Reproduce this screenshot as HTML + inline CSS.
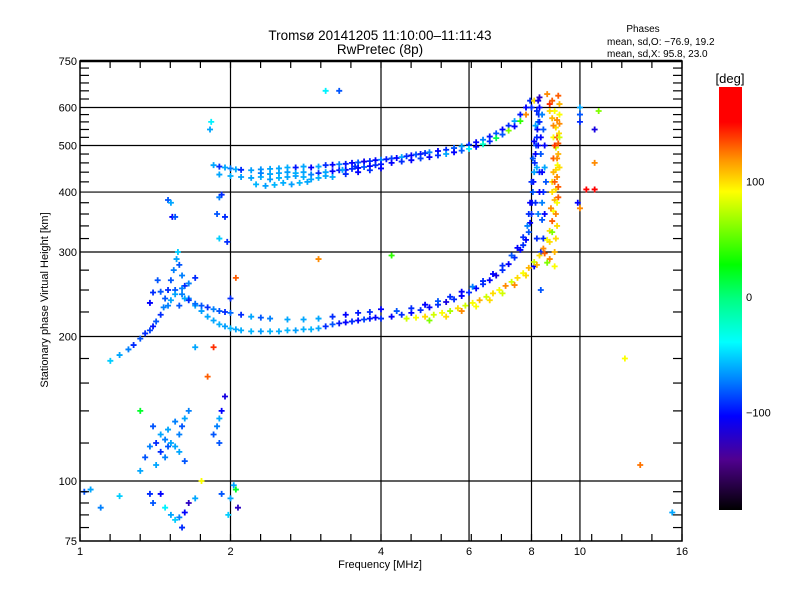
<!DOCTYPE html>
<html><head><meta charset="utf-8"><style>
html,body{margin:0;padding:0;background:#fff;}
svg text{font-family:"Liberation Sans",sans-serif;}
</style></head><body>
<svg id="chart" xmlns="http://www.w3.org/2000/svg" width="800" height="600" viewBox="0 0 800 600">
<defs>
<linearGradient id="cbar" x1="0" y1="1" x2="0" y2="0">
<stop offset="0" stop-color="#000000"/>
<stop offset="0.12" stop-color="#500090"/>
<stop offset="0.222" stop-color="#0000ff"/>
<stop offset="0.306" stop-color="#0080ff"/>
<stop offset="0.397" stop-color="#00ffff"/>
<stop offset="0.5" stop-color="#00ff80"/>
<stop offset="0.58" stop-color="#00ff00"/>
<stop offset="0.753" stop-color="#ffff00"/>
<stop offset="0.825" stop-color="#ff9900"/>
<stop offset="0.917" stop-color="#ff0000"/>
<stop offset="1" stop-color="#ff0000"/>
</linearGradient>
</defs>
<text x="380" y="40" font-size="13.5" text-anchor="middle">Tromsø 20141205 11:10:00–11:11:43</text>
<text x="380" y="54" font-size="13.5" text-anchor="middle">RwPretec (8p)</text>
<text x="643" y="32" font-size="10" text-anchor="middle">Phases</text>
<text x="607" y="45" font-size="10">mean, sd,O: −76.9, 19.2</text>
<text x="607" y="57" font-size="10">mean, sd,X:  95.8, 23.0</text>
<g id="grid"></g>
<g id="points"></g>
<g id="axes"></g>
<text x="380" y="568" font-size="11" text-anchor="middle">Frequency [MHz]</text>
<text x="48" y="300" font-size="11" text-anchor="middle" transform="rotate(-90 48 300)">Stationary phase Virtual Height [km]</text>
<rect x="719" y="87" width="23" height="423" fill="url(#cbar)"/>
<text x="730" y="83" font-size="13" text-anchor="middle">[deg]</text>
<g id="cbticks"></g>
</svg>
<script>
const xTickValues=[1,2,4,6,8,10,16];
const xTickLabels=["1","2","4","6","8","10","16"];
const xGridValues=[2,4,6,8,10];
const yTickValues=[75,100,200,300,400,500,600,750];
const yTickLabels=["75","100","200","300","400","500","600","750"];
const yGridValues=[100,200,300,400,500,600];
const yMinorValues=[80,85,90,95,120,140,160,180,225,250,275,320,340,360,380,420,440,460,480,520,540,560,580,625,650,675,700,725];
const cbTickValues=[100,0,-100];
const cbTickLabels=["100","0","−100"];
const upperBandA=[[1.85,455,-60],[1.9,452,-90],[1.95,450,-60],[2.0,448,-70],[2.05,446,-60],[2.1,445,-90],[2.2,444,-62],[2.3,446,-65],[2.4,447,-60],[2.5,448,-60],[2.6,450,-58],[2.7,450,-95],[2.8,452,-60],[2.9,450,-100],[3.0,452,-60],[3.1,455,-90],[3.2,456,-100],[3.3,457,-70],[3.4,458,-95],[3.5,460,-100],[3.6,461,-80],[3.7,463,-105],[3.8,464,-90],[3.9,466,-100],[4.0,467,-70],[4.1,468,-95],[4.2,470,-85],[4.3,471,-100],[4.4,473,-60],[4.5,475,-90],[4.6,477,-100],[4.7,479,-80],[4.8,480,-95],[4.9,482,-90],[5.0,484,-70],[5.2,487,-100],[5.4,490,-90],[5.6,494,-80],[5.8,498,-60],[6.0,502,-90],[6.2,508,-100],[6.4,514,-70],[6.6,522,-95],[6.8,530,-80],[7.0,540,-100],[7.2,550,-90],[7.4,562,-60],[7.6,580,-95],[7.8,600,-100],[7.95,620,-90]];
const upperBandB=[[1.9,435,-60],[2.0,432,-58],[2.1,430,-62],[2.2,428,-60],[2.3,430,-58],[2.4,425,-62],[2.5,428,-56],[2.6,430,-60],[2.7,432,-62],[2.8,430,-58],[2.9,435,-70],[3.0,438,-90],[3.1,440,-60],[3.2,442,-100],[3.3,444,-95],[3.4,445,-100],[3.5,447,-90],[3.6,449,-100],[3.7,451,-80],[3.8,453,-100],[3.9,455,-90],[4.0,457,-95],[4.2,460,-100],[4.4,463,-90],[4.6,466,-100],[4.8,470,-85],[5.0,473,-100],[5.2,477,-90],[5.4,480,-60],[5.6,484,-100],[5.8,488,-80],[6.0,492,-40],[6.2,497,-100],[6.4,503,-20],[6.6,510,-90],[6.8,518,10],[7.0,527,-80],[7.2,537,60],[7.4,548,-100],[7.6,562,40],[7.8,580,120],[8.0,600,-90],[8.1,620,100],[8.3,630,-120]];
const upperBandC=[[2.25,415,-56],[2.35,412,-62],[2.45,414,-56],[2.55,418,-58],[2.65,415,-62],[2.75,418,-56],[2.85,420,-60],[2.5,438,-60],[2.6,440,-62],[2.7,438,-58],[2.8,440,-60],[2.4,436,-60],[3.1,432,-60],[3.2,430,-60],[3.4,436,-90],[3.6,440,-100],[3.8,444,-90],[4.0,448,-100],[3.35,445,-60],[3.55,452,-90],[2.3,438,-70],[2.9,425,-60],[3.0,428,-58]];
const lowerBranch=[[1.65,240,-70],[1.7,232,-60],[1.75,226,-62],[1.8,220,-60],[1.85,216,-60],[1.9,212,-58],[1.95,210,-62],[2.0,208,-56],[2.05,207,-60],[2.1,206,-58],[2.2,205,-56],[2.3,205,-62],[2.4,205,-56],[2.5,205,-58],[2.6,206,-56],[2.7,206,-62],[2.8,207,-58],[2.9,207,-56],[3.0,208,-60],[3.1,210,-90],[3.2,212,-80],[3.3,213,-95],[3.4,214,-100],[3.5,215,-90],[3.6,216,-100],[3.7,217,-85],[3.8,218,-95],[3.9,219,-100]];
const upperBranch=[[1.55,250,-80],[1.6,245,-70],[1.65,238,-90],[1.7,234,-75],[1.75,232,-80],[1.8,230,-90],[1.85,228,-70],[1.9,226,-80],[1.95,225,-90],[2.0,224,-75],[2.1,222,-90],[2.2,220,-60],[2.3,219,-80],[2.4,218,-70],[2.6,217,-60],[2.8,217,-60],[3.0,218,-60],[3.2,220,-90],[3.4,222,-100],[3.6,224,-95],[3.8,225,-90],[4.0,228,-100]];
const cuspTrace=[[1.15,178,-50],[1.2,183,-60],[1.25,188,-70],[1.28,192,-90],[1.32,198,-80],[1.35,203,-90],[1.38,206,-85],[1.4,210,-95],[1.42,215,-80],[1.45,222,-90],[1.47,230,-70],[1.48,240,-80],[1.5,250,-90],[1.52,262,-80],[1.54,275,-70],[1.56,290,-60],[1.57,300,-50],[1.58,282,-80],[1.6,268,-70],[1.62,255,-90],[1.55,245,-60],[1.6,252,-70],[1.5,232,-70],[1.52,238,-60],[1.58,232,-80],[1.62,240,-60],[1.45,248,-80],[1.4,247,-90],[1.38,235,-100],[1.43,262,-80],[1.65,258,-70],[1.7,265,-90]];
const sporadicE=[[1.32,105,-60],[1.35,112,-80],[1.38,118,-70],[1.42,120,-90],[1.45,125,-60],[1.48,122,-70],[1.5,118,-80],[1.52,120,-60],[1.55,118,-60],[1.58,125,-70],[1.6,130,-80],[1.62,135,-60],[1.65,140,-70],[1.4,130,-80],[1.45,115,-90],[1.5,128,-60],[1.55,133,-70],[1.58,115,-60],[1.62,110,-80],[1.85,125,-80],[1.88,130,-70],[1.9,135,-60],[1.92,140,-100],[1.95,150,-110],[1.9,120,-80],[1.42,108,-60],[1.48,112,-70]];
const lowEchoes=[[1.02,95,-80],[1.05,96,-60],[1.1,88,-70],[1.2,93,-50],[1.38,94,-90],[1.4,90,-80],[1.45,94,-100],[1.48,88,-40],[1.52,85,-60],[1.55,83,-50],[1.58,84,-70],[1.62,86,-100],[1.65,90,-120],[1.7,92,-60],[1.6,80,-90],[1.92,94,-80],[2.0,92,-60],[2.03,98,-60],[2.05,96,20],[2.07,88,-120],[1.98,85,-50],[1.75,100,90]];
const scattered=[[1.5,385,-80],[1.52,380,-60],[1.53,355,-100],[1.55,355,-80],[1.9,390,-70],[1.92,395,-90],[1.88,360,-80],[1.95,355,-90],[1.9,320,-50],[1.97,315,-90],[1.82,540,-60],[1.83,560,-40],[3.1,650,-40],[3.3,650,-80],[2.05,265,130],[3.0,290,120],[4.2,295,40],[1.7,190,-60],[1.8,165,130],[1.85,190,140],[1.32,140,20],[2.0,240,-90],[10.0,560,-90],[10.0,580,-80],[10.0,600,-60],[10.7,540,-110],[10.9,590,60],[10.7,460,120],[10.3,405,170],[10.7,405,170],[9.9,380,-100],[10.0,370,120],[13.2,108,125],[12.3,180,90],[15.3,86,-60]];
const oModeRow1=[[4.0,218,-90],[4.2,220,-100],[4.4,222,-90],[4.6,224,-100],[4.8,227,-90],[5.0,230,-100],[5.2,233,-90],[5.4,236,-110],[5.6,239,-90],[5.8,243,-100],[6.0,247,-90],[6.2,252,-100],[6.4,257,-90],[6.6,262,-100],[6.8,268,-110],[7.0,275,-90],[7.2,283,-100],[7.4,292,-90],[7.6,303,-100],[7.7,310,-90],[7.8,318,-100],[7.9,330,-80],[7.95,345,-100],[8.0,360,-90],[8.02,380,-100],[8.05,400,-80],[8.07,420,-100],[8.1,440,-60],[8.12,460,-90],[8.15,480,-100],[8.17,500,-80],[8.2,520,-90],[8.22,540,-100],[8.25,560,-70],[8.27,580,-90],[8.3,600,-100]];
const oModeRow2=[[4.3,226,-80],[4.6,229,-90],[4.9,233,-100],[5.2,237,-80],[5.5,242,-90],[5.8,248,-100],[6.1,254,-70],[6.4,261,-90],[6.7,270,-100],[7.0,281,-90],[7.3,295,-80],[7.5,306,-100],[7.7,322,-90],[7.85,340,-70],[7.9,360,-90],[7.95,380,-100],[8.0,420,-90],[8.05,470,-80],[8.1,510,-100],[8.15,550,-60],[8.2,590,-90],[8.25,620,-110],[8.35,300,-90],[8.4,350,-80],[8.45,400,-90],[8.5,450,-60],[8.5,500,-100],[8.45,540,-80],[8.4,580,-70],[8.35,250,-80]];
const oModeColumn=[[8.1,280,-100],[8.2,320,-90],[8.25,360,-70],[8.3,400,-100],[8.3,440,-90],[8.35,480,-80],[8.35,520,-100],[8.3,560,-90],[8.2,450,-60],[8.25,500,-100],[8.15,380,-90],[8.4,440,-100],[8.4,380,-70],[8.45,320,-90],[8.5,360,-100],[8.55,420,-80]];
const xModeRow1=[[4.5,218,80],[4.7,219,90],[4.9,220,100],[5.1,222,80],[5.3,224,90],[5.5,226,70],[5.7,229,100],[5.9,232,80],[6.1,235,90],[6.3,238,110],[6.5,242,80],[6.7,246,100],[6.9,250,90],[7.1,255,120],[7.3,260,80],[7.5,265,100],[7.7,271,90],[7.9,278,110],[8.1,286,80],[8.3,295,100],[8.45,305,120],[8.6,318,90],[8.7,332,100],[8.8,348,130],[8.85,365,90],[8.9,385,110],[8.95,405,100],[9.0,430,120],[9.02,455,90],[9.05,480,110],[9.05,505,130],[9.08,530,100],[9.1,555,120],[9.1,580,90],[9.1,610,110],[9.05,635,130]];
const xModeRow2=[[5.0,216,60],[5.4,220,100],[5.8,226,120],[6.2,231,90],[6.6,238,100],[7.0,246,80],[7.4,256,120],[7.8,268,100],[8.2,282,110],[8.5,298,130],[8.7,315,100],[8.8,330,60],[8.75,370,120],[8.8,420,100],[8.85,470,130],[8.85,520,90],[8.8,570,110],[8.7,610,140],[8.6,640,120],[8.9,300,110],[9.0,340,100],[9.05,390,130]];
const xModeColumn=[[8.95,360,120],[9.0,380,90],[8.9,420,130],[8.95,445,100],[9.0,470,120],[8.95,495,80],[9.0,520,130],[8.95,545,100],[9.0,565,120],[8.9,590,90],[8.85,440,110],[8.9,500,140],[8.8,400,100],[9.05,410,130],[9.1,450,100],[9.1,520,80],[8.85,550,120],[8.7,590,100],[8.8,620,130],[8.95,320,100],[8.9,280,90],[8.7,290,120],[8.6,285,60]];

const NS="http://www.w3.org/2000/svg";
const X0=80,X1=682,Y0=541,Y1=61;
function xOf(f){return X0+(X1-X0)*Math.log(f)/Math.log(16);}
function yOf(h){return Y0-(Y0-Y1)*Math.log10(h/75);}
function cbY(v){return 297-1.153*v;}
const stops=[[-185,[0,0,0]],[-137,[80,0,144]],[-100,[0,0,255]],[-70,[0,128,255]],[-37,[0,255,255]],[0,[0,255,128]],[29,[0,255,0]],[91,[255,255,0]],[117,[255,153,0]],[150,[255,0,0]],[185,[255,0,0]]];
function colorOf(v){
  for(let i=0;i<stops.length-1;i++){
    const a=stops[i],b=stops[i+1];
    if(v<=b[0]){const t=Math.max(0,(v-a[0])/(b[0]-a[0]));
      const c=a[1].map((x,k)=>Math.round(x+(b[1][k]-x)*t));return `rgb(${c[0]},${c[1]},${c[2]})`;}
  }
  return "rgb(255,0,0)";
}
function mk(tag,attrs,parent){const e=document.createElementNS(NS,tag);for(const k in attrs)e.setAttribute(k,attrs[k]);parent.appendChild(e);return e;}
const grid=document.getElementById('grid'),axes=document.getElementById('axes'),pts=document.getElementById('points'),cbt=document.getElementById('cbticks');
xGridValues.forEach(v=>{const l=mk('line',{x1:xOf(v),x2:xOf(v),y1:Y1,y2:Y0,stroke:'#000','stroke-width':1.2},grid);

});
yGridValues.forEach(v=>{const l=mk('line',{x1:X0,x2:X1,y1:yOf(v),y2:yOf(v),stroke:'#000','stroke-width':1.2},grid);

});
const traces=[upperBandA,upperBandB,upperBandC,lowerBranch,upperBranch,cuspTrace,sporadicE,lowEchoes,scattered,oModeRow1,oModeRow2,oModeColumn,xModeRow1,xModeRow2,xModeColumn];
traces.forEach(tr=>tr.forEach(p=>{
  const x=xOf(p[0]),y=yOf(p[1]),c=colorOf(p[2]);
  const g=mk('path',{d:`M${x-3},${y}H${x+3}M${x},${y-3}V${y+3}`,stroke:c,'stroke-width':1.8,fill:'none'},pts);
  
  
}));
const frame=mk('rect',{x:X0,y:Y1,width:X1-X0,height:Y0-Y1,fill:'none',stroke:'#000','stroke-width':1.5},axes);


mk('line',{x1:X0,x2:X1,y1:Y1,y2:Y1,stroke:'#000','stroke-width':2.5},axes);
for(let k=0;k<=20;k++){const x=X0+(X1-X0)*k/20;
  mk('line',{x1:x,x2:x,y1:Y0,y2:Y0-7,stroke:'#000','stroke-width':1.2},axes);
  mk('line',{x1:x,x2:x,y1:Y1,y2:Y1+7,stroke:'#000','stroke-width':1.2},axes);}
yMinorValues.forEach(v=>{const y=yOf(v);
  mk('line',{x1:X0,x2:X0+9,y1:y,y2:y,stroke:'#000','stroke-width':1.2},axes);
  mk('line',{x1:X1,x2:X1-9,y1:y,y2:y,stroke:'#000','stroke-width':1.2},axes);});
xTickValues.forEach((v,i)=>{const t=mk('text',{x:xOf(v),y:555,'font-size':11,'text-anchor':'middle'},axes);t.textContent=xTickLabels[i];

});
yTickValues.forEach((v,i)=>{const t=mk('text',{x:77,y:yOf(v)+4,'font-size':11,'text-anchor':'end'},axes);t.textContent=yTickLabels[i];

});
cbTickValues.forEach((v,i)=>{const t=mk('text',{x:746,y:cbY(v)+4,'font-size':11},cbt);t.textContent=cbTickLabels[i];

});
</script>
</body></html>
